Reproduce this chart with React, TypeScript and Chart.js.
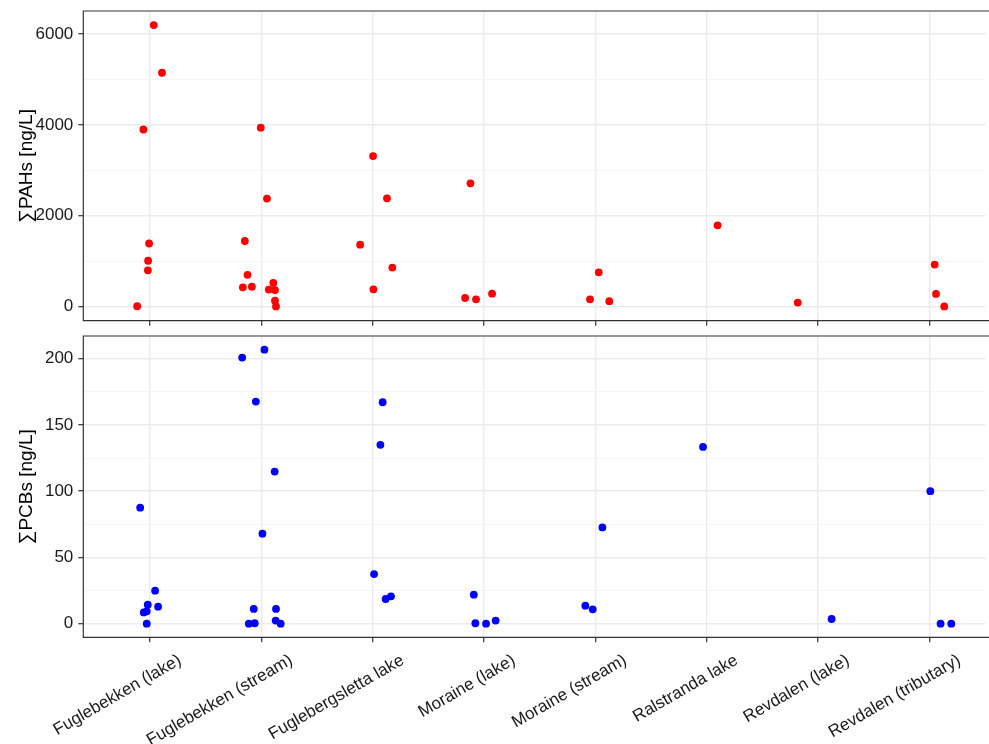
import React, { useEffect, useRef } from "react";
import { Chart, registerables } from "chart.js";

Chart.register(...registerables);

const sites = [
  "Fuglebekken (lake)",
  "Fuglebekken (stream)",
  "Fuglebergsletta lake",
  "Moraine (lake)",
  "Moraine (stream)",
  "Ralstranda lake",
  "Revdalen (lake)",
  "Revdalen (tributary)",
];

// ΣPAHs [ng/L]: site index, horizontal jitter (in category units), value
const pahSite = [0, 0, 0, 0, 0, 0, 0, 1, 1, 1, 1, 1, 1, 1, 1, 1, 1, 1, 2, 2, 2, 2, 2, 3, 3, 3, 3, 4, 4, 4, 5, 6, 7, 7, 7];
const pahJitter = [
  0.033, 0.107, -0.06, -0.009, -0.018, -0.02, -0.116,
  -0.006, 0.05, -0.149, -0.125, -0.167, -0.086, 0.107, 0.066, 0.122, 0.122, 0.131,
  0.003, 0.128, -0.113, 0.176, 0.006,
  -0.122, -0.17, -0.072, 0.072,
  0.03, -0.048, 0.125,
  0.098,
  -0.182,
  0.048, 0.06, 0.134,
];
const pahValues = [
  6200, 5150, 3900, 1390, 1010, 800, 10,
  3940, 2380, 1445, 700, 425, 440, 520, 375, 365, 130, 5,
  3315, 2385, 1365, 860, 380,
  2715, 190, 160, 285,
  755, 160, 120,
  1790,
  90,
  925, 280, 5,
];

// ΣPCBs [ng/L]
const pcbSite = [0, 0, 0, 0, 0, 0, 0, 1, 1, 1, 1, 1, 1, 1, 1, 1, 1, 1, 2, 2, 2, 2, 2, 3, 3, 3, 3, 4, 4, 4, 5, 6, 7, 7, 7];
const pcbJitter = [
  -0.089, 0.045, -0.021, 0.072, -0.057, -0.03, -0.03,
  -0.173, 0.027, -0.05, 0.119, 0.009, -0.069, 0.131, -0.113, -0.06, 0.128, 0.173,
  0.089, 0.069, 0.012, 0.116, 0.164,
  -0.092, -0.078, 0.018, 0.104,
  0.063, -0.09, -0.024,
  -0.033,
  0.122,
  0.009, 0.101, 0.197,
];
const pcbValues = [
  87.5, 24.9, 14.3, 12.8, 8.5, 9.3, 0,
  200.8, 206.8, 167.6, 114.8, 67.9, 11.1, 11.1, 0, 0.3, 2.3, 0,
  167.1, 135, 37.4, 18.6, 20.6,
  21.9, 0.3, 0, 2.3,
  72.6, 13.6, 10.8,
  133.4,
  3.5,
  100, 0, 0,
];

const pahTicks = [0, 1000, 2000, 3000, 4000, 5000, 6000];
const pahLabelStep = 2000;
const pcbTicks = [0, 25, 50, 75, 100, 125, 150, 175, 200];
const pcbLabelStep = 50;

const FONT = "'Liberation Sans', Arial, Helvetica, sans-serif";

const panelBorder = {
  id: "panelBorder",
  afterDraw(chart: any) {
    const { ctx, chartArea: a } = chart;
    ctx.save();
    ctx.strokeStyle = "#333333";
    ctx.lineWidth = 1.2;
    ctx.beginPath();
    ctx.moveTo(a.right + 10, a.top);
    ctx.lineTo(a.left, a.top);
    ctx.lineTo(a.left, a.bottom);
    ctx.lineTo(a.right + 10, a.bottom);
    ctx.stroke();
    ctx.restore();
  },
};

interface PanelProps {
  height: number;
  padTop: number;
  xHeight: number;
  showLabels: boolean;
  sitesIdx: number[];
  jitter: number[];
  values: number[];
  color: string;
  yMin: number;
  yMax: number;
  yTicks: number[];
  labelStep: number;
  title: string;
}

const Panel: React.FC<PanelProps> = (p) => {
  const canvasRef = useRef<HTMLCanvasElement | null>(null);
  const chartRef = useRef<Chart | null>(null);

  useEffect(() => {
    const ctx = canvasRef.current?.getContext("2d");
    if (!ctx) return;
    if (chartRef.current) chartRef.current.destroy();

    const isMajor = (v: number) => v % p.labelStep === 0;

    chartRef.current = new Chart(ctx, {
      type: "scatter",
      data: {
        datasets: [
          {
            data: p.sitesIdx.map((s, i) => ({ x: s + p.jitter[i], y: p.values[i] })),
            backgroundColor: p.color,
            borderWidth: 0,
            pointRadius: 3.9,
          },
        ],
      },
      options: {
        animation: false,
        responsive: false,
        layout: { padding: { top: p.padTop, left: 0, right: 0, bottom: 0 } },
        plugins: { legend: { display: false }, tooltip: { enabled: false } },
        scales: {
          x: {
            type: "linear",
            min: -0.6,
            max: 7.5,
            afterBuildTicks: (s: any) => {
              s.ticks = sites.map((_, i) => ({ value: i }));
            },
            afterFit: (s: any) => {
              s.height = p.xHeight;
              s.paddingLeft = 0;
              s.paddingRight = 0;
            },
            ticks: {
              display: p.showLabels,
              autoSkip: false,
              minRotation: 30,
              maxRotation: 30,
              labelOffset: 30,
              padding: 8,
              color: "#1a1a1a",
              font: { family: FONT, size: 17 },
              callback: (_v: any, i: number) => sites[i],
            },
            grid: {
              color: "#EBEBEB",
              lineWidth: 1.4,
              tickColor: "#333333",
              tickLength: 5,
              tickWidth: 1.2,
            },
            border: { display: false },
          },
          y: {
            type: "linear",
            min: p.yMin,
            max: p.yMax,
            afterBuildTicks: (s: any) => {
              s.ticks = p.yTicks.map((v) => ({ value: v }));
            },
            afterFit: (s: any) => {
              s.width = 83.3;
              s.paddingTop = 0;
              s.paddingBottom = 0;
            },
            ticks: {
              autoSkip: false,
              padding: 5,
              color: "#1a1a1a",
              font: { family: FONT, size: 17 },
              callback: (v: any) => (isMajor(Number(v)) ? String(v) : ""),
            },
            grid: {
              color: (c: any) => (c.tick && isMajor(c.tick.value) ? "#EBEBEB" : "#F2F2F2"),
              lineWidth: (c: any) => (c.tick && isMajor(c.tick.value) ? 1.4 : 0.8),
              tickColor: (c: any) => (c.tick && isMajor(c.tick.value) ? "#333333" : "rgba(0,0,0,0)"),
              tickLength: 5,
              tickWidth: 1.2,
            },
            border: { display: false },
            title: {
              display: true,
              text: p.title,
              color: "#000000",
              font: { family: FONT, size: 19 },
              padding: { top: 15, bottom: 0 },
            },
          },
        },
      },
      plugins: [panelBorder],
    });

    return () => {
      if (chartRef.current) {
        chartRef.current.destroy();
        chartRef.current = null;
      }
    };
  }, [p]);

  return (
    <canvas
      ref={canvasRef}
      width={989}
      height={p.height}
      style={{ display: "block", width: 989, height: p.height }}
    ></canvas>
  );
};

const topProps: PanelProps = {
  height: 330,
  padTop: 11,
  xHeight: 9.3,
  showLabels: false,
  sitesIdx: pahSite,
  jitter: pahJitter,
  values: pahValues,
  color: "#FF0000",
  yMin: -310,
  yMax: 6510,
  yTicks: pahTicks,
  labelStep: pahLabelStep,
  title: "∑PAHs [ng/L]",
};

const bottomProps: PanelProps = {
  height: 414,
  padTop: 6,
  xHeight: 106.7,
  showLabels: true,
  sitesIdx: pcbSite,
  jitter: pcbJitter,
  values: pcbValues,
  color: "#0000FF",
  yMin: -10.3,
  yMax: 217.1,
  yTicks: pcbTicks,
  labelStep: pcbLabelStep,
  title: "∑PCBs [ng/L]",
};

export default function App() {
  return (
    <div style={{ position: "absolute", left: 0, top: 0, width: 989, height: 744, background: "#fff", overflow: "hidden" }}>
      <Panel {...topProps} />
      <Panel {...bottomProps} />
    </div>
  );
}
